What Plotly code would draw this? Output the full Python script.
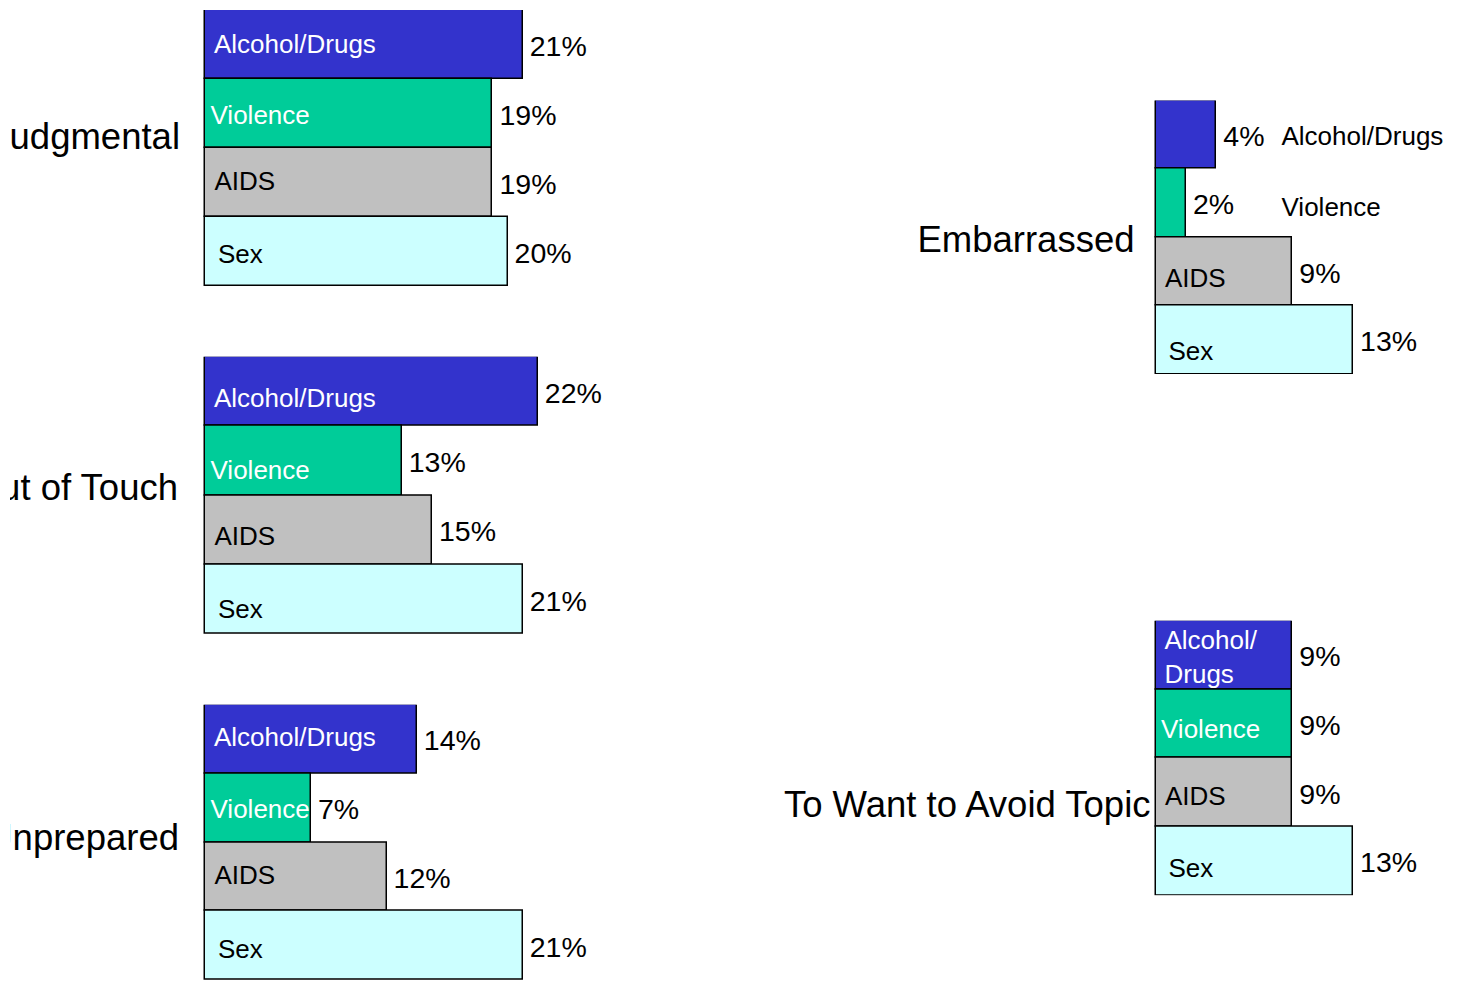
import plotly.graph_objects as go

# ---------------- data ----------------
categories = ["Alcohol/Drugs", "Violence", "AIDS", "Sex"]
groups = ["Judgmental", "Out of Touch", "Unprepared", "Embarrassed", "To Want to Avoid Topic"]
judgmental = [21, 19, 19, 20]
out_of_touch = [22, 13, 15, 21]
unprepared = [14, 7, 12, 21]
embarrassed = [4, 2, 9, 13]
avoid_topic = [9, 9, 9, 13]
series = [judgmental, out_of_touch, unprepared, embarrassed, avoid_topic]

bar_texts = [
    categories,
    categories,
    categories,
    categories,
    ["Alcohol/<br>Drugs", "Violence", "AIDS", "Sex"],
]
text_outside = [
    [False, False, False, False],
    [False, False, False, False],
    [False, False, False, False],
    [True, True, False, False],
    [False, False, False, False],
]

# ---------------- style / layout geometry (pixels) ----------------
W, H = 1459, 981
colors = ["#3333CC", "#00CC99", "#C0C0C0", "#CCFFFF"]
inside_colors = ["white", "white", "black", "black"]
FONT = "Liberation Sans, Arial, sans-serif"
FS_BAR, FS_VAL, FS_CAT = 26, 28.5, 36.5

geom = [
    dict(L=205.0, T=10.0, B=286.0, x0=10, x1=700, S=15.13, cat_r=180, cat_c=136,
         dy=[-0.7, 1.5, -1.7, 2.3]),
    dict(L=205.0, T=356.7, B=634.0, x0=10, x1=700, S=15.13, cat_r=178, cat_c=486.5,
         dy=[6, 9, 5.5, 9.5]),
    dict(L=205.0, T=704.7, B=980.0, x0=10, x1=700, S=15.13, cat_r=179, cat_c=837,
         dy=[-2, 1, -2.5, 3]),
    dict(L=1155.5, T=100.5, B=374.0, x0=700, x1=1459, S=15.2, cat_r=1134.5, cat_c=239,
         dy=[1, 4, 6.5, 10.5]),
    dict(L=1155.5, T=620.7, B=895.3, x0=700, x1=1459, S=15.2, cat_r=1150.5, cat_c=804,
         dy=[2, 5, 3, 7]),
]
inside_x_px = [9, 5.5, 9.5, 13]
outside_x_px = 126
value_gap_px = 7

fig = go.Figure()
layout = dict(
    width=W, height=H, margin=dict(l=0, r=0, t=0, b=0),
    paper_bgcolor="white", plot_bgcolor="white", showlegend=False,
    bargap=0, font=dict(family=FONT, color="black"),
)

for i, (name, vals, texts, outs, g) in enumerate(zip(groups, series, bar_texts, text_outside, geom), start=1):
    xa = "x" if i == 1 else f"x{i}"
    ya = "y" if i == 1 else f"y{i}"
    S = g["S"]
    bh = (g["B"] - g["T"]) / 4.0
    pos = list(range(len(categories)))

    # bars
    fig.add_trace(go.Bar(
        x=vals, y=pos, orientation="h", width=1,
        marker=dict(color=colors, line=dict(color="black", width=1.5)),
        xaxis=xa, yaxis=ya, hoverinfo="skip",
    ))

    # category labels on bars
    lx, ly, lc = [], [], []
    for j, (t, o) in enumerate(zip(texts, outs)):
        if o:
            lx.append(outside_x_px / S)
            lc.append("black")
        else:
            lx.append(inside_x_px[j] / S)
            lc.append(inside_colors[j])
        ly.append(j + (g["dy"][j] + 0.108 * FS_BAR) / bh)
    fig.add_trace(go.Scatter(
        x=lx, y=ly, mode="text", text=texts, textposition="middle right",
        textfont=dict(family=FONT, size=FS_BAR, color=lc),
        cliponaxis=False, xaxis=xa, yaxis=ya, hoverinfo="skip",
    ))

    # value labels
    fig.add_trace(go.Scatter(
        x=[v + value_gap_px / S for v in vals],
        y=[j + (1 + 0.108 * FS_VAL) / bh for j in pos],
        mode="text", text=[f"{v}%" for v in vals], textposition="middle right",
        textfont=dict(family=FONT, size=FS_VAL, color="black"),
        cliponaxis=False, xaxis=xa, yaxis=ya, hoverinfo="skip",
    ))

    # group label (clipped at the plot's left edge like the original)
    fig.add_trace(go.Scatter(
        x=[(g["cat_r"] - g["L"]) / S],
        y=[-0.5 + (g["cat_c"] + 0.108 * FS_CAT - g["T"]) / bh],
        mode="text", text=[name], textposition="middle left",
        textfont=dict(family=FONT, size=FS_CAT, color="black"),
        cliponaxis=True, xaxis=xa, yaxis=ya, hoverinfo="skip",
    ))

    xkey = "xaxis" if i == 1 else f"xaxis{i}"
    ykey = "yaxis" if i == 1 else f"yaxis{i}"
    layout[xkey] = dict(
        domain=[g["x0"] / W, g["x1"] / W],
        range=[(g["x0"] - g["L"]) / S, (g["x1"] - g["L"]) / S],
        visible=False, fixedrange=True, anchor=ya,
    )
    layout[ykey] = dict(
        domain=[1 - g["B"] / H, 1 - g["T"] / H],
        range=[3.5, -0.5], visible=False, fixedrange=True, anchor=xa,
    )

fig.update_layout(**layout)
fig.write_html(
    "out.html",
    config={"displayModeBar": False},
    post_script="document.body.style.margin='0';document.body.style.overflow='hidden';",
)
